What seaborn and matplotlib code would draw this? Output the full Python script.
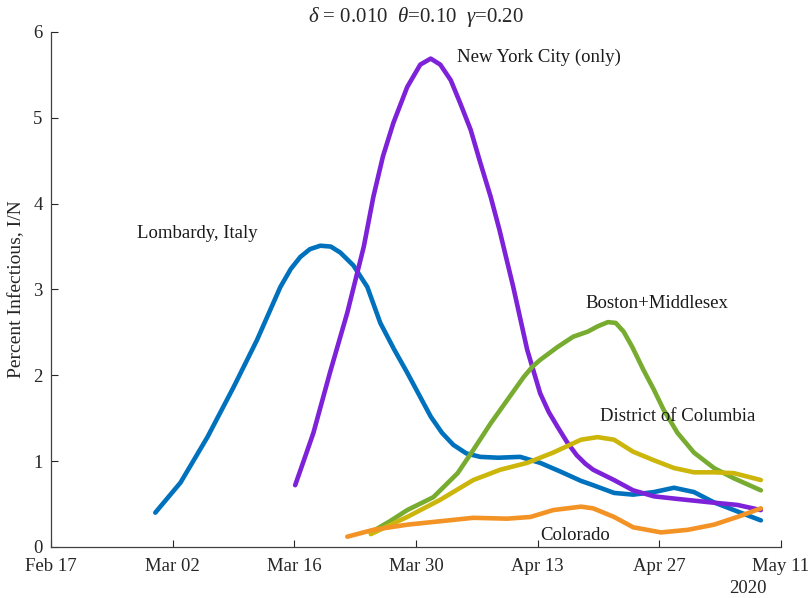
import matplotlib
matplotlib.use("Agg")
import matplotlib.pyplot as plt
import matplotlib.dates as mdates
import numpy as np
import pandas as pd
import seaborn as sns

START = pd.Timestamp("2020-02-17")

# days since Feb 17, 2020 and percent infectious (I/N)
lomb_days = [12.0, 14.9, 18.0, 21.0, 23.7, 26.4, 27.6, 28.7, 29.8, 31.0, 32.2, 33.3, 34.8, 36.4, 37.9, 39.5, 41.0, 43.7, 45.0, 46.3, 47.8, 49.4, 51.5, 54.0, 56.3, 58.6, 61.0, 62.4, 64.8, 67.0, 69.4, 71.7, 74.0, 76.3, 78.6, 81.7]
lomb_vals = [0.40, 0.75, 1.28, 1.86, 2.41, 3.03, 3.24, 3.38, 3.47, 3.51, 3.50, 3.43, 3.28, 3.03, 2.61, 2.30, 2.03, 1.52, 1.33, 1.19, 1.09, 1.05, 1.04, 1.05, 0.98, 0.88, 0.77, 0.72, 0.63, 0.61, 0.64, 0.69, 0.64, 0.52, 0.43, 0.31]

nyc_days = [28.1, 29.0, 30.2, 32.1, 34.1, 36.0, 37.1, 38.2, 39.4, 41.0, 42.5, 43.7, 44.8, 46.0, 47.1, 48.3, 49.4, 50.6, 51.6, 53.2, 54.8, 56.3, 57.3, 58.3, 59.4, 60.5, 61.5, 62.4, 64.8, 67.0, 69.4, 72.1, 75.9, 79.0, 81.7]
nyc_vals = [0.72, 0.98, 1.33, 2.03, 2.73, 3.50, 4.08, 4.55, 4.94, 5.36, 5.62, 5.69, 5.62, 5.44, 5.17, 4.86, 4.48, 4.08, 3.70, 3.03, 2.30, 1.79, 1.57, 1.40, 1.22, 1.07, 0.97, 0.90, 0.78, 0.66, 0.59, 0.56, 0.52, 0.49, 0.43]

bos_days = [36.8, 39.0, 41.0, 44.0, 46.8, 48.6, 50.6, 52.5, 54.4, 55.4, 56.3, 58.3, 60.1, 61.8, 62.9, 64.1, 65.0, 65.9, 66.9, 68.2, 69.4, 70.5, 72.1, 74.0, 76.3, 78.6, 81.7]
bos_vals = [0.17, 0.30, 0.43, 0.58, 0.86, 1.13, 1.44, 1.71, 1.98, 2.10, 2.18, 2.33, 2.45, 2.51, 2.57, 2.62, 2.61, 2.51, 2.33, 2.06, 1.83, 1.60, 1.33, 1.10, 0.92, 0.80, 0.66]

dc_days = [36.8, 41.0, 44.8, 48.6, 51.7, 54.8, 57.8, 61.0, 62.9, 64.8, 67.0, 69.4, 71.7, 74.0, 76.3, 78.6, 81.7]
dc_vals = [0.15, 0.35, 0.55, 0.78, 0.90, 0.98, 1.10, 1.25, 1.28, 1.25, 1.11, 1.01, 0.92, 0.87, 0.87, 0.86, 0.78]

co_days = [34.1, 37.1, 41.0, 44.8, 48.6, 52.5, 55.2, 57.8, 61.0, 62.4, 64.8, 67.0, 70.2, 73.3, 76.3, 79.0, 81.7]
co_vals = [0.12, 0.20, 0.26, 0.30, 0.34, 0.33, 0.35, 0.43, 0.47, 0.45, 0.35, 0.23, 0.17, 0.20, 0.26, 0.35, 0.45]

regions = ["Lombardy, Italy", "New York City (only)", "Boston+Middlesex", "District of Columbia", "Colorado"]
colors = ["#0072BD", "#7D22D8", "#77AC30", "#CDB60C", "#F39325"]
series = [(lomb_days, lomb_vals), (nyc_days, nyc_vals), (bos_days, bos_vals), (dc_days, dc_vals), (co_days, co_vals)]

frames = []
for name, (d, v) in zip(regions, series):
    frames.append(pd.DataFrame({
        "date": START + pd.to_timedelta(np.array(d), unit="D"),
        "value": v,
        "region": name,
    }))
df = pd.concat(frames, ignore_index=True)

sns.set_theme(style="ticks")
plt.rcParams["font.family"] = ["Liberation Serif", "DejaVu Serif"]
plt.rcParams["mathtext.fontset"] = "custom"
plt.rcParams["mathtext.rm"] = "Liberation Serif"
plt.rcParams["mathtext.it"] = "Liberation Serif:italic"
plt.rcParams["lines.solid_joinstyle"] = "round"

fig = plt.figure(figsize=(8.10, 5.98), dpi=100)
ax = fig.add_axes([0.063, 0.0853, 0.901, 0.8612])

sns.lineplot(data=df, x="date", y="value", hue="region", hue_order=regions,
             palette=dict(zip(regions, colors)), linewidth=3.3, estimator=None,
             sort=False, legend=False, ax=ax)
for ln in ax.get_lines():
    ln.set_solid_joinstyle("round")

ax.set_xlim(START, pd.Timestamp("2020-05-11"))
ax.set_ylim(0, 6)
xt = pd.date_range("2020-02-17", "2020-05-11", freq="14D")
ax.set_xticks(xt)
ax.xaxis.set_major_formatter(mdates.DateFormatter("%b %d"))
ax.set_yticks(range(0, 7))
ax.tick_params(direction="in", length=5, width=0.8, colors="#262626", labelsize=13.5)
ax.tick_params(axis="x", pad=8)
ax.tick_params(axis="y", pad=6)
for s in ["top", "right"]:
    ax.spines[s].set_visible(False)
for s in ["left", "bottom"]:
    ax.spines[s].set_color("#404040")
    ax.spines[s].set_linewidth(0.9)

ax.set_xlabel("")
ax.set_ylabel("Percent Infectious, I/N", fontsize=14, labelpad=6)
ax.set_title(r"$\delta$ = 0.010  $\theta$=0.10  $\gamma$=0.20", fontsize=15, pad=7)

label_pos = {
    "Lombardy, Italy": (9.9, 3.65),
    "New York City (only)": (46.7, 5.7),
    "Boston+Middlesex": (61.5, 2.84),
    "District of Columbia": (63.2, 1.52),
    "Colorado": (56.3, 0.13),
}
for name, (d, v) in label_pos.items():
    ax.text(START + pd.Timedelta(days=d), v, name, fontsize=13.5, va="center", ha="left", color="#1a1a1a")

ax.text(0.955, -0.065, "2020", transform=ax.transAxes, ha="center", va="top", fontsize=13.5, color="#262626")

fig.savefig("out.png", dpi=100)
